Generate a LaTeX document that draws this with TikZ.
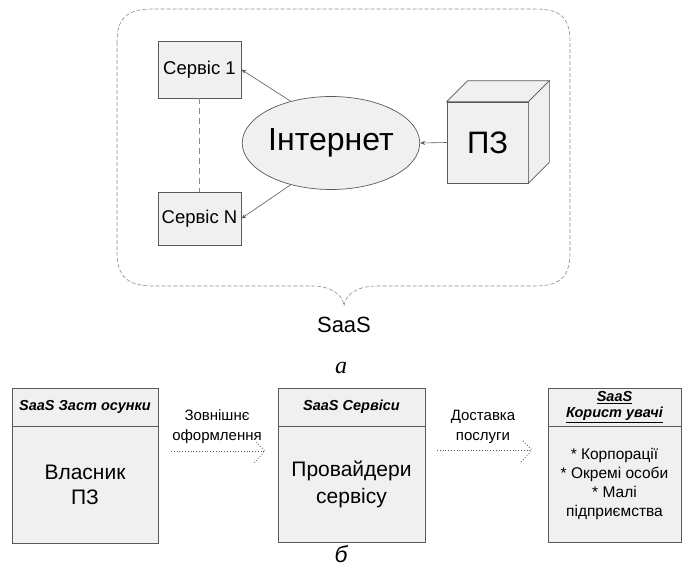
\documentclass[tikz,border=0pt]{standalone}
\usepackage{fontspec}
\setmainfont{Liberation Sans}
\newfontfamily\serifit{Liberation Serif}
\usetikzlibrary{calc,arrows.meta,shapes.geometric}
\definecolor{edgegray}{HTML}{5A5A5A}
\definecolor{boxfill}{HTML}{F0F0F0}
\definecolor{dashgray}{HTML}{8C8C8C}
\newcommand{\fs}[2]{\fontsize{#1}{#2}\selectfont}
\begin{document}
\begin{tikzpicture}[x=1pt,y=-1pt,
  svcbox/.style={draw=edgegray, line width=0.7pt, fill=boxfill, inner sep=0pt,
    minimum width=83pt, font=\fs{18.5}{20}},
  netnode/.style={ellipse, draw=edgegray, line width=0.7pt, fill=boxfill, inner sep=0pt,
    minimum width=148pt, minimum height=93pt, font=\fs{32}{34}},
  face/.style={draw=edgegray, line width=0.7pt, fill=boxfill},
  link/.style={draw=edgegray, line width=0.6pt, -{Stealth[length=5pt,width=4pt]}},
  headbox/.style={draw=edgegray, line width=0.7pt, fill=boxfill, inner sep=0pt,
    minimum height=38pt, align=center, font=\bfseries\itshape\fs{14.5}{15.5}},
  bodybox/.style={draw=edgegray, line width=0.7pt, fill=boxfill, inner sep=0pt,
    align=center},
  flowlabel/.style={align=center, font=\fs{15}{20}},
  dotline/.style={draw=edgegray, line width=0.8pt, dotted}
]
\useasboundingbox (0,0) rectangle (683,573);

% ---------- part a: SaaS scheme ----------
% dashed outline with brace point at the bottom
\draw[dashgray, line width=0.6pt, dash pattern=on 4pt off 2pt]
  (117,42) -- (117,252) .. controls (117,276) and (127,286) .. (153,286)
  -- (312,286) .. controls (330,286) and (343,294) .. (344,306)
  .. controls (345,294) and (358,286) .. (377,286)
  -- (535,286) .. controls (561,286) and (570,276) .. (570,252)
  -- (570,42) .. controls (570,18) and (561,9) .. (535,9)
  -- (153,9) .. controls (127,9) and (117,18) .. (117,42) -- cycle;

\node[svcbox, minimum height=57pt] (s1) at (199.5,69.5) {Сервіс 1};
\node[svcbox, minimum height=53pt] (sN) at (199.5,218.5) {Сервіс N};
\draw[dashgray, line width=0.6pt, dash pattern=on 6pt off 4pt] (s1.south) -- (sN.north);

\node[netnode] (inet) at (331,143) {Інтернет};

% software cube
\node[face, minimum width=81pt, minimum height=81pt, inner sep=0pt,
  font=\fs{31}{33}] (pz) at (487.5,142.5) {ПЗ};
\draw[face] (pz.north west) -- ++(21,-21) -- ($(pz.north east)+(21,-21)$)
  -- (pz.north east) -- cycle;
\draw[face] (pz.north east) -- ++(21,-21) -- ($(pz.south east)+(21,-21)$)
  -- (pz.south east) -- cycle;

\draw[link] (pz.west) -- (inet.east);
\draw[link] (inet.134) -- (s1.east);
\draw[link] (inet.226) -- (sN.east);

\node[font=\fs{22}{24}] (saas) at (344,325) {SaaS};
\node[font=\serifit\itshape\fs{24}{26}] (capa) at (341,368) {a};

% ---------- part b: SaaS roles ----------
\node[headbox, minimum width=146pt] (h1) at (85,407) {SaaS Заст осунки};
\node[bodybox, minimum width=146pt, minimum height=117pt, font=\fs{21}{25}]
  (b1) at (85,484.5) {Власник\\ПЗ};

\node[headbox, minimum width=147pt] (h2) at (351.5,407) {SaaS Сервіси};
\node[bodybox, minimum width=147pt, minimum height=116pt, font=\fs{21}{27}]
  (b2) at (351.5,484) {Провайдери\\сервісу};

\node[headbox, minimum width=133pt] (h3) at (614.5,407)
  {\underline{SaaS}\\\underline{Корист увачі}};
\node[bodybox, minimum width=133pt, minimum height=116pt, font=\fs{15.5}{19}]
  (b3) at (614.5,484) {* Корпорації\\* Окремі особи\\* Малі\\підприємства};

% dotted flows between the roles
\node[flowlabel] (l1) at (217,427) {Зовнішнє\\оформлення};
\node[flowlabel] (l2) at (483,427) {Доставка\\послуги};
\coordinate (f1s) at (171,451);
\coordinate (f1e) at (265,451);
\coordinate (f2s) at (437,450);
\coordinate (f2e) at (532,450);
\draw[dotline] (f1s) -- (f1e);
\draw[dotline] ($(f1e)+(-9,-9)$) -- (f1e) -- ($(f1e)+(-12,13)$);
\draw[dotline] (f2s) -- (f2e);
\draw[dotline] ($(f2e)+(-9,-9)$) -- (f2e) -- ($(f2e)+(-12,13)$);

\node[font=\itshape\fs{23}{25}] (capb) at (341,554) {б};
\end{tikzpicture}
\end{document}
